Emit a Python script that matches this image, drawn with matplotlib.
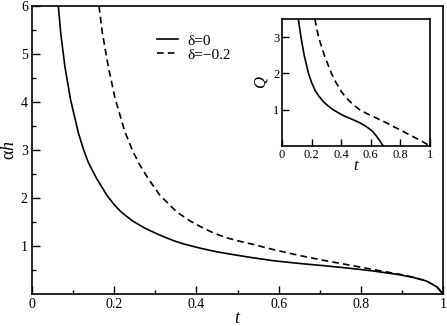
import matplotlib
matplotlib.use("Agg")
import matplotlib.pyplot as plt

plt.rcParams['font.family'] = ['Liberation Serif', 'DejaVu Serif']
plt.rcParams['mathtext.fontset'] = 'custom'
plt.rcParams['mathtext.rm'] = 'Liberation Serif'
plt.rcParams['mathtext.it'] = 'Liberation Serif:italic'

# Main panel data: alpha*h vs t
t_d0 = [0.064, 0.070, 0.080, 0.094, 0.113, 0.125, 0.137, 0.157, 0.182, 0.200,
        0.218, 0.245, 0.275, 0.300, 0.320, 0.345, 0.368, 0.409, 0.449, 0.490,
        0.530, 0.590, 0.652, 0.710, 0.774, 0.830, 0.895, 0.930, 0.960, 0.985,
        1.0]
ah_d0 = [6.0, 5.43, 4.74, 4.04, 3.35, 3.02, 2.74, 2.41, 2.06, 1.86,
         1.70, 1.52, 1.37, 1.27, 1.195, 1.11, 1.045, 0.955, 0.88, 0.82,
         0.765, 0.69, 0.635, 0.59, 0.535, 0.48, 0.40, 0.34, 0.27, 0.15,
         0.0]
t_dm = [0.163, 0.171, 0.186, 0.202, 0.226, 0.246, 0.263, 0.283, 0.311, 0.352,
        0.385, 0.417, 0.445, 0.474, 0.500, 0.530, 0.590, 0.652, 0.710, 0.774,
        0.840, 0.895, 0.930, 0.960, 0.985, 1.0]
ah_dm = [6.0, 5.45, 4.72, 4.08, 3.38, 2.96, 2.68, 2.40, 2.06, 1.71,
         1.52, 1.37, 1.26, 1.17, 1.11, 1.05, 0.92, 0.80, 0.70, 0.60,
         0.495, 0.41, 0.345, 0.27, 0.15, 0.0]

# Inset data: Q vs t
ti_d0 = [0.110, 0.128, 0.150, 0.179, 0.200, 0.225, 0.250, 0.280, 0.310, 0.342,
         0.370, 0.400, 0.430, 0.466, 0.500, 0.530, 0.556, 0.585, 0.613, 0.635,
         0.655, 0.676, 0.685]
q_d0 = [3.5, 3.0, 2.5, 2.0, 1.75, 1.52, 1.37, 1.22, 1.11, 1.01,
        0.94, 0.87, 0.81, 0.75, 0.69, 0.63, 0.57, 0.49, 0.40, 0.29,
        0.18, 0.05, 0.0]
ti_dm = [0.222, 0.247, 0.286, 0.334, 0.365, 0.401, 0.430, 0.460, 0.490, 0.525,
         0.580, 0.638, 0.685, 0.728, 0.770, 0.815, 0.860, 0.904, 0.945, 0.983,
         1.0]
q_dm = [3.5, 3.0, 2.5, 2.0, 1.75, 1.5, 1.35, 1.22, 1.11, 1.0,
        0.88, 0.77, 0.68, 0.59, 0.50, 0.41, 0.31, 0.22, 0.13, 0.04,
        0.0]

labels = ['δ=0', 'δ=−0.2']
xticks = [0, 0.2, 0.4, 0.6, 0.8, 1.0]
xticklabels = ['0', '0.2', '0.4', '0.6', '0.8', '1']

W, H = 447, 326
fig = plt.figure(figsize=(W / 100, H / 100), dpi=100)
ax = fig.add_axes([32 / W, (H - 294) / H, 411 / W, 288 / H])
ax.plot(t_d0, ah_d0, color='black', lw=1.2, label=labels[0])
ax.plot(t_dm, ah_dm, color='black', lw=1.2, ls=(0, (4, 2.5)), label=labels[1])
ax.set_xlim(0, 1)
ax.set_ylim(0, 6)
ax.set_xticks(xticks)
ax.set_xticklabels(xticklabels)
ax.set_xticks([0.1, 0.3, 0.5, 0.7, 0.9], minor=True)
ax.set_yticks([1, 2, 3, 4, 5, 6])
ax.set_yticks([0.5, 1.5, 2.5, 3.5, 4.5, 5.5], minor=True)
ax.tick_params(which='both', direction='in', top=False, right=False, labelsize=10, pad=3)
ax.tick_params(which='major', length=6, width=1)
ax.tick_params(which='minor', length=3, width=1)
for s in ax.spines.values():
    s.set_linewidth(1.2)
ax.set_xlabel('$t$', fontsize=13, labelpad=-1)
ax.set_ylabel('α$h$', fontsize=13, labelpad=2)
ax.legend(loc='upper left', bbox_to_anchor=(0.27, 0.95), frameon=False,
          fontsize=11, handlelength=1.4, handletextpad=0.6, labelspacing=0.0)

ins = fig.add_axes([282 / W, (H - 146) / H, 148 / W, 127 / H])
ins.plot(ti_d0, q_d0, color='black', lw=1.2)
ins.plot(ti_dm, q_dm, color='black', lw=1.2, ls=(0, (4, 2.5)))
ins.set_xlim(0, 1)
ins.set_ylim(0, 3.5)
ins.set_xticks(xticks)
ins.set_xticklabels(xticklabels)
ins.set_yticks([1, 2, 3])
ins.tick_params(direction='in', top=False, right=False, labelsize=9, length=5, width=1, pad=2)
for s in ins.spines.values():
    s.set_linewidth(1.2)
ins.set_xlabel('$t$', fontsize=12, labelpad=-2)
ins.set_ylabel('$Q$', fontsize=12, labelpad=2)

fig.savefig('out.png', dpi=100)
